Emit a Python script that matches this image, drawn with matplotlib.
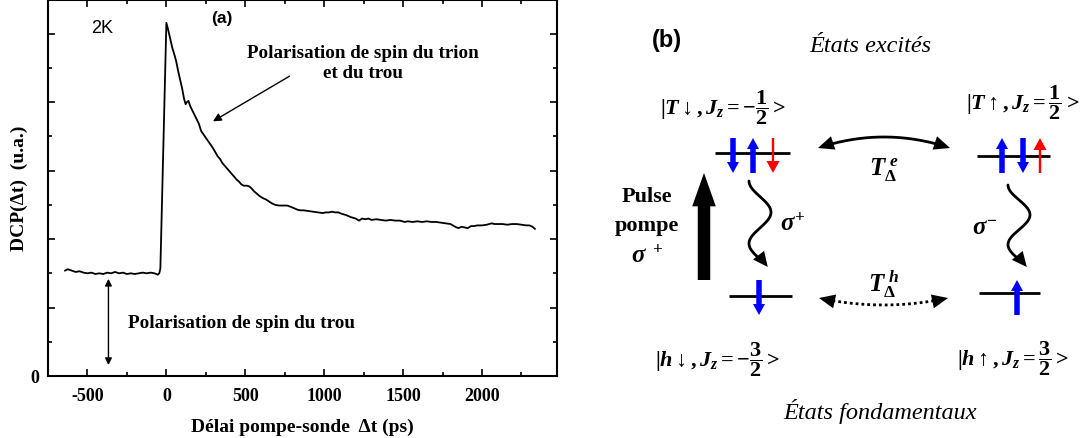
import numpy as np
import matplotlib
matplotlib.use("Agg")
import matplotlib.pyplot as plt
from matplotlib.patches import FancyArrowPatch, Polygon
from matplotlib.ticker import MultipleLocator

plt.rcParams["mathtext.fontset"] = "custom"
plt.rcParams["mathtext.rm"] = "Liberation Serif:bold"
plt.rcParams["mathtext.bf"] = "Liberation Serif:bold"
plt.rcParams["mathtext.it"] = "Liberation Serif:bold:italic"

SERIF = "Liberation Serif"
SANS = "Liberation Sans"

# Pump-probe delay (ps) and circular polarisation degree (arb. units)
delay_ps = [-642, -625, -600, -575, -550, -525, -500, -475, -450, -425, -400,
            -375, -350, -325, -300, -275, -250, -225, -200, -175, -150, -125,
            -100, -75, -55, -45, -38, 0, 12, 25, 37, 50, 62, 75, 87, 100, 112,
            122, 130, 140, 150, 160, 175, 190, 205, 220, 235, 250, 265, 280,
            295, 310, 325, 340, 355, 370, 385, 400, 415, 430, 445, 460, 475,
            490, 510, 525, 540, 555, 570, 590, 610, 630, 650, 670, 690, 715,
            740, 765, 790, 810, 830, 850, 870, 900, 930, 960, 990, 1010, 1030,
            1050, 1070, 1090, 1110, 1140, 1170, 1200, 1220, 1240, 1260, 1280,
            1300, 1330, 1360, 1390, 1420, 1450, 1480, 1510, 1530, 1560, 1590,
            1620, 1650, 1680, 1710, 1740, 1770, 1800, 1830, 1850, 1870, 1890,
            1910, 1930, 1950, 1970, 2000, 2030, 2060, 2080, 2100, 2130, 2160,
            2190, 2220, 2250, 2280, 2300, 2320, 2335]
dcp = [1.54, 1.56, 1.54, 1.52, 1.53, 1.51, 1.50, 1.51, 1.49, 1.50, 1.49,
       1.51, 1.50, 1.52, 1.50, 1.51, 1.49, 1.50, 1.49, 1.50, 1.51, 1.50,
       1.51, 1.50, 1.48, 1.50, 1.57, 5.16, 5.05, 4.92, 4.80, 4.70, 4.60, 4.45,
       4.33, 4.20, 4.05, 3.97, 4.00, 4.02, 3.95, 3.90, 3.83, 3.76, 3.69, 3.58,
       3.53, 3.48, 3.43, 3.38, 3.33, 3.27, 3.21, 3.17, 3.11, 3.07, 3.03, 2.99,
       2.95, 2.91, 2.87, 2.84, 2.80, 2.78, 2.78, 2.77, 2.74, 2.70, 2.67, 2.63,
       2.60, 2.58, 2.55, 2.52, 2.50, 2.49, 2.49, 2.49, 2.47, 2.45, 2.43, 2.42,
       2.42, 2.41, 2.40, 2.39, 2.38, 2.39, 2.39, 2.40, 2.39, 2.39, 2.37, 2.35,
       2.32, 2.30, 2.27, 2.30, 2.29, 2.30, 2.28, 2.29, 2.28, 2.27, 2.28, 2.27,
       2.27, 2.25, 2.26, 2.25, 2.26, 2.25, 2.26, 2.25, 2.25, 2.24, 2.23, 2.22,
       2.18, 2.16, 2.18, 2.17, 2.16, 2.19, 2.19, 2.20, 2.20, 2.21, 2.23, 2.22,
       2.22, 2.22, 2.21, 2.22, 2.22, 2.21, 2.20, 2.20, 2.18, 2.15]

x_ticks = [-500, 0, 500, 1000, 1500, 2000]
hole_level = 1.50      # level of the hole-spin plateau before the pump
arrow_delay = -367     # delay at which the hole-polarisation arrow is drawn

W, H = 1085, 439
fig = plt.figure(figsize=(W / 100, H / 100), dpi=100)

# ---------------- panel (a): DCP transient ----------------
ax = fig.add_axes([48 / W, 1 - 377 / H, (557 - 48) / W, 376.5 / H])
ax.plot(delay_ps, dcp, color="black", lw=1.3)
ax.set_xlim(-750, 2475)
ax.set_ylim(0, 5.5)
ax.xaxis.set_major_locator(MultipleLocator(500))
ax.xaxis.set_minor_locator(MultipleLocator(250))
ax.yaxis.set_major_locator(MultipleLocator(1))
ax.yaxis.set_minor_locator(MultipleLocator(0.5))
ax.set_xticks(x_ticks)
ax.set_xticklabels([str(v) for v in x_ticks])
ax.set_yticks([0, 1, 2, 3, 4, 5])
ax.set_yticklabels(["0", "", "", "", "", ""])
ax.tick_params(which="both", direction="in", top=True, right=True, width=1.2,
               labelsize=13)
ax.tick_params(which="major", length=5)
ax.tick_params(which="minor", length=3)
ax.tick_params(axis="x", pad=8)
ax.tick_params(axis="y", pad=6)
for lab in ax.get_xticklabels() + ax.get_yticklabels():
    lab.set_fontfamily(SERIF)
    lab.set_fontweight("bold")
for sp in ax.spines.values():
    sp.set_linewidth(1.5)

ax.set_xlabel(u"Délai pompe-sonde  \u0394t (ps)", fontfamily=SERIF,
              fontweight="bold", fontsize=14, labelpad=10)
ax.set_ylabel(u"DCP(\u0394t)  (u.a.)", fontfamily=SERIF, fontweight="bold",
              fontsize=14)
ax.yaxis.set_label_coords(-20 / 509, 0.50)

ax.text(-405, 5.09, "2K", fontfamily=SANS, fontsize=13, ha="center",
        va="center")
ax.text(350, 5.24, "(a)", fontfamily=SANS, fontsize=12.5, fontweight="bold",
        ha="center", va="center")
ax.text(1245, 4.58, "Polarisation de spin du trion\net du trou",
        fontfamily=SERIF, fontweight="bold", fontsize=13.7, ha="center",
        va="center", linespacing=1.25)
ax.annotate("", xy=(280, 3.70), xytext=(795, 4.40),
            arrowprops=dict(arrowstyle="-|>", color="black", lw=1.0,
                            mutation_scale=12))
ax.text(-240, 0.78, "Polarisation de spin du trou", fontfamily=SERIF,
        fontweight="bold", fontsize=13.8, ha="left", va="center")
ax.annotate("", xy=(arrow_delay, 0.12), xytext=(arrow_delay, hole_level - 0.04),
            arrowprops=dict(arrowstyle="<|-|>", color="black", lw=1.0,
                            mutation_scale=10))

# ---------------- panel (b): level scheme ----------------
bx = fig.add_axes([0, 0, 1, 1], facecolor="none")
bx.set_xlim(0, W)
bx.set_ylim(H, 0)
bx.axis("off")

BLUE = "#0000ff"
RED = "#ff0000"


def head(tip, direction, length, width, color="black"):
    d = np.asarray(direction, float)
    d /= np.hypot(*d)
    n = np.array([-d[1], d[0]])
    tip = np.asarray(tip, float)
    base = tip - d * length
    bx.add_patch(Polygon([tip, base + n * width / 2, base - n * width / 2],
                         closed=True, color=color, lw=0, zorder=4))


def spin_arrow(x, y_tail, y_head, color, shaft, head_w, head_l):
    sgn = np.sign(y_head - y_tail)
    bx.plot([x, x], [y_tail, y_head - sgn * head_l * 0.9], color=color,
            lw=shaft * 0.72, solid_capstyle="butt", zorder=3)
    head((x, y_head), (0, sgn), head_l, head_w, color)


def level(x0, x1, y):
    bx.plot([x0, x1], [y, y], color="black", lw=2.0, zorder=2,
            solid_capstyle="butt")


def flip_arrow(p0, p2, sag, style):
    p0 = np.asarray(p0, float)
    p2 = np.asarray(p2, float)
    p1 = (p0 + p2) / 2 + np.array([0, 2 * sag])
    t = np.linspace(0, 1, 200)[:, None]
    pts = (1 - t) ** 2 * p0 + 2 * (1 - t) * t * p1 + t ** 2 * p2
    keep = slice(12, -12)
    bx.plot(pts[keep, 0], pts[keep, 1], color="black", lw=2.0,
            linestyle=style, zorder=3)
    head(p0, p0 - p1, 16, 14)
    head(p2, p2 - p1, 16, 14)


# excited trion states
level(715, 790, 154)
spin_arrow(733, 139, 174, BLUE, 5.5, 12, 11)
spin_arrow(753, 174, 139, BLUE, 5.5, 12, 11)
spin_arrow(773, 139, 174, RED, 2.4, 13, 12)

level(977, 1050, 157)
spin_arrow(1002, 174, 139, BLUE, 5.5, 12, 11)
spin_arrow(1023, 139, 174, BLUE, 5.5, 12, 11)
spin_arrow(1040, 174, 139, RED, 2.4, 13, 12)

# ground hole states
level(729, 792, 297)
spin_arrow(759, 281, 316, BLUE, 5.5, 12, 11)
level(979, 1040, 294)
spin_arrow(1017, 316, 281, BLUE, 5.5, 12, 11)

# electron spin flip (solid) and hole spin flip (dotted)
flip_arrow((818, 149), (950, 149), -11, "-")
flip_arrow((819, 299), (948, 299), 7, (0, (1, 1.1)))

# pump pulse
bx.add_patch(FancyArrowPatch((704, 281), (704, 174),
                             arrowstyle="simple,head_width=17,head_length=24,tail_width=9",
                             mutation_scale=1, color="black", lw=0,
                             shrinkA=0, shrinkB=0))


def photon(xc, y0, y1, amp):
    t = np.linspace(0, 1, 300)
    ys = y0 + (y1 - y0) * t
    ph = -np.pi / 2 + 2.75 * np.pi * t
    xs = xc + amp * np.sin(ph)
    tip = np.array([xs[-1], ys[-1]])
    d = np.array([amp * np.cos(ph[-1]) * 2.75 * np.pi, y1 - y0])
    d /= np.hypot(*d)
    hl = 15
    cut = ys < (tip - d * hl * 0.8)[1]
    bx.plot(xs[cut], ys[cut], color="black", lw=2.0, solid_capstyle="round")
    head(tip, d, hl, 14)


photon(760, 182, 268, 11)
photon(1019, 186, 268, 11)

# labels
bx.text(667, 41, "(b)", fontfamily=SANS, fontweight="bold", fontsize=17,
        ha="center", va="center")
bx.text(870, 47, u"États excités", fontfamily=SERIF, fontstyle="italic",
        fontsize=17.5, ha="center", va="center")
bx.text(880, 412, u"États fondamentaux", fontfamily=SERIF, fontstyle="italic",
        fontsize=17.5, ha="center", va="center")

bx.text(660, 108, r"$|T\downarrow, J_{z} = -\dfrac{1}{2} >$", fontsize=16,
        ha="left", va="center")
bx.text(966, 103, r"$|T\uparrow, J_{z} = \dfrac{1}{2} >$", fontsize=16,
        ha="left", va="center")
bx.text(655, 360, r"$|h\downarrow, J_{z} = -\dfrac{3}{2} >$", fontsize=16,
        ha="left", va="center")
bx.text(957, 359, r"$|h\uparrow, J_{z} = \dfrac{3}{2} >$", fontsize=16,
        ha="left", va="center")

bx.text(884, 170, r"$T_{\mathit{\Delta}}^{\;e}$", fontsize=18, ha="center",
        va="center")
bx.text(884, 284, r"$T_{\mathit{\Delta}}^{\;h}$", fontsize=18, ha="center",
        va="center")
bx.text(793, 224, r"$\sigma^{+}$", fontsize=18, ha="center", va="center")
bx.text(985, 228, r"$\sigma^{-}$", fontsize=18, ha="center", va="center")

bx.text(647, 197, "Pulse", fontfamily=SERIF, fontweight="bold", fontsize=16,
        ha="center", va="center")
bx.text(647, 226, "pompe", fontfamily=SERIF, fontweight="bold", fontsize=16,
        ha="center", va="center")
bx.text(647, 256, r"$\sigma^{\;+}$", fontsize=18, ha="center", va="center")

fig.savefig("out.png", dpi=100)
